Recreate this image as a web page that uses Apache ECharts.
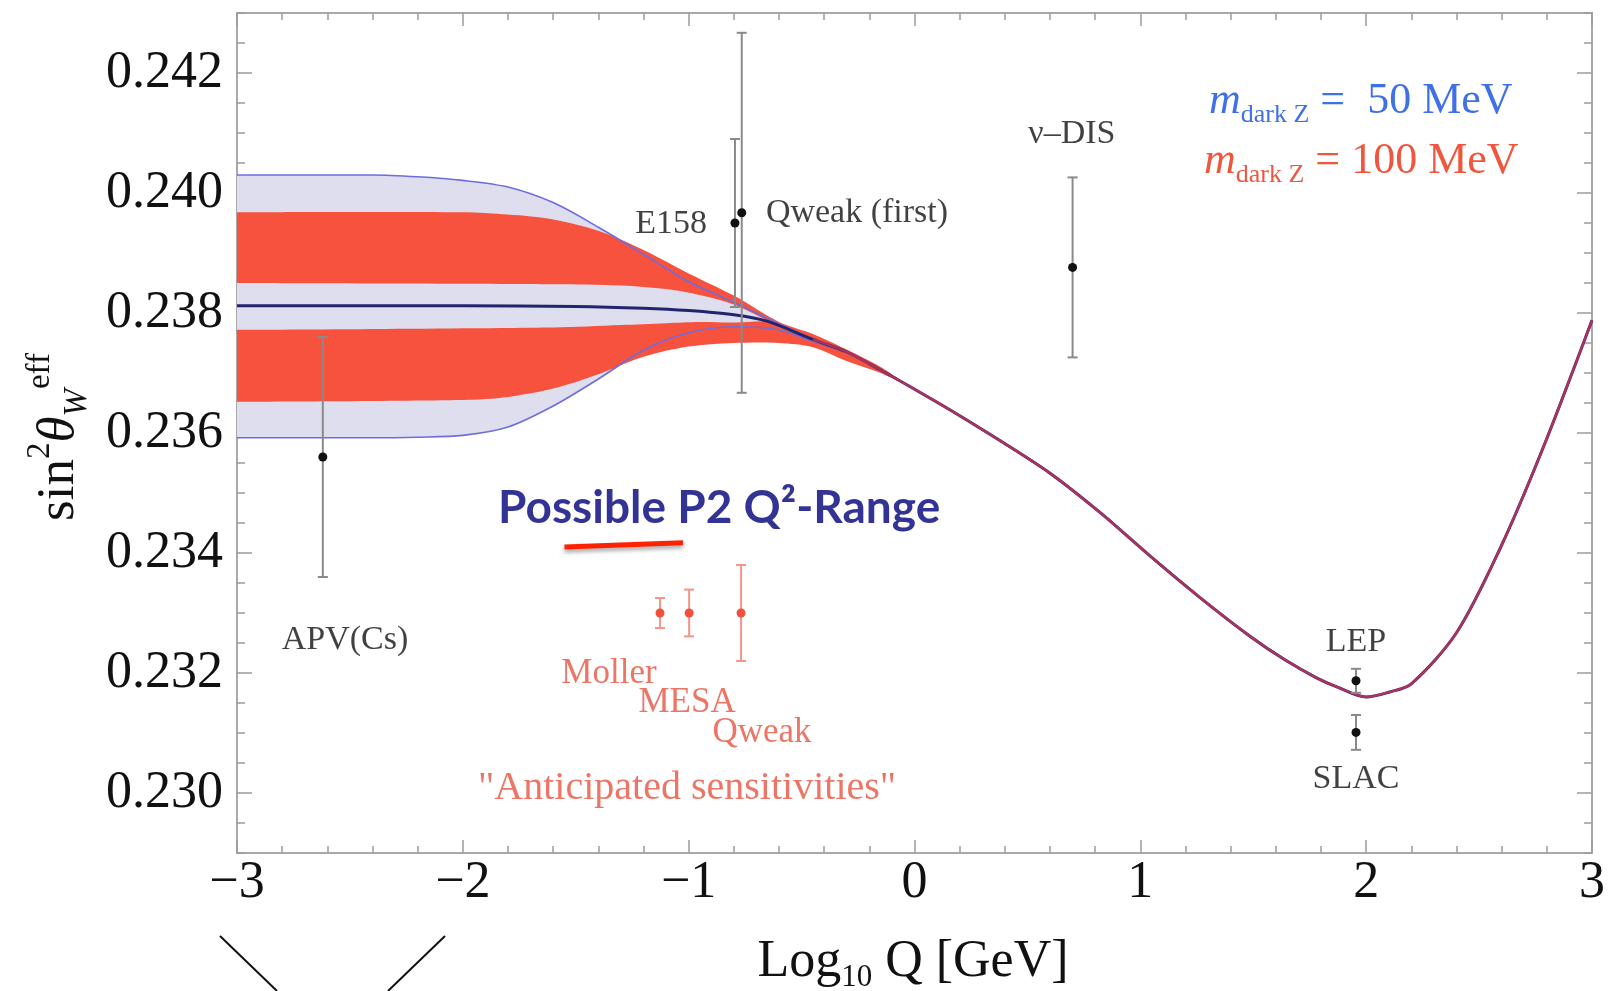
<!DOCTYPE html>
<html>
<head>
<meta charset="utf-8"/>
<title>sin2 theta_W effective - running</title>
<script src="https://cdn.jsdelivr.net/npm/echarts@6.0.0/dist/echarts.min.js"></script>
<style>
html, body { margin: 0; padding: 0; background: #fff; }
#chart { width: 1613px; height: 991px; }
</style>
</head>
<body>
<div id="chart"></div>
<script>
// ---- values (x = log10 Q [GeV], y = sin^2 theta_W eff) ----
var xTicks = [-3, -2, -1, 0, 1, 2, 3];
var yTicks = [0.230, 0.232, 0.234, 0.236, 0.238, 0.240, 0.242];

// SM running curve
var central = [
    [-3, 0.23812], [-2, 0.23812], [-1.5, 0.23811], [-1.2, 0.23808], [-1.0, 0.23804],
    [-0.8, 0.23797], [-0.65, 0.23786], [-0.45, 0.23756], [-0.3, 0.23735], [-0.15, 0.23705],
    [0, 0.23673], [0.16, 0.23638], [0.38, 0.23587], [0.6, 0.23533], [0.82, 0.23468],
    [1.04, 0.23396], [1.26, 0.23327], [1.49, 0.2326], [1.64, 0.23222], [1.78, 0.23192],
    [1.87, 0.23177], [2.0, 0.2316], [2.1, 0.23168], [2.2, 0.23182], [2.4, 0.23267],
    [2.59, 0.23405], [2.78, 0.23572], [3.0, 0.23788]
];

// m_dark Z = 50 MeV band edges
var blue50Upper = [
    [-3, 0.2403], [-2.4, 0.2403], [-2.2, 0.24027], [-2.0, 0.24021], [-1.8, 0.2401],
    [-1.6, 0.23984], [-1.4, 0.23943], [-1.2, 0.23898], [-1.0, 0.23852], [-0.8, 0.23818],
    [-0.6, 0.23782], [-0.45, 0.23757], [-0.3, 0.23735]
];
var blue50Lower = [
    [-3, 0.23592], [-2.4, 0.23592], [-2.2, 0.23593], [-2.0, 0.23596], [-1.8, 0.2361],
    [-1.6, 0.23645], [-1.4, 0.2369], [-1.2, 0.23738], [-1.0, 0.23767], [-0.8, 0.23777],
    [-0.6, 0.23772], [-0.45, 0.23753], [-0.3, 0.23735]
];

// m_dark Z = 100 MeV band, outer edges
var red100Upper = [
    [-3, 0.23968], [-2.0, 0.23968], [-1.8, 0.23964], [-1.6, 0.23956], [-1.4, 0.23937],
    [-1.2, 0.23905], [-1.0, 0.23866], [-0.8, 0.23829], [-0.6, 0.23785], [-0.45, 0.23765],
    [-0.3, 0.23739], [-0.15, 0.2371], [-0.02, 0.23677]
];
var red100Lower = [
    [-3, 0.23652], [-2.0, 0.23655], [-1.8, 0.2366], [-1.6, 0.23674], [-1.4, 0.23698],
    [-1.2, 0.23727], [-1.0, 0.23744], [-0.8, 0.2375], [-0.6, 0.2375], [-0.45, 0.23743],
    [-0.3, 0.2372], [-0.15, 0.237], [-0.02, 0.23677]
];
// inner (uncovered) part of the 100 MeV band
var red100InnerUpper = [
    [-3, 0.2385], [-1.6, 0.23848], [-1.3, 0.23846], [-1.1, 0.2384], [-0.95, 0.2383],
    [-0.8, 0.23814], [-0.65, 0.23787]
];
var red100InnerLower = [
    [-3, 0.23772], [-1.6, 0.23776], [-1.3, 0.2378], [-1.1, 0.23783], [-0.95, 0.23785],
    [-0.8, 0.23784], [-0.65, 0.23787]
];

// measurements: name, x, y, error
var measured = [
    ['APV(Cs)', -2.62, 0.2356, 0.002],
    ['E158', -0.795, 0.2395, 0.0014],
    ['Qweak (first)', -0.765, 0.23967, 0.003],
    ['nu-DIS', 0.70, 0.23876, 0.0015],
    ['LEP', 1.955, 0.23187, 0.0002],
    ['SLAC', 1.955, 0.23101, 0.00029]
];
// anticipated sensitivities
var anticipated = [
    ['Moller', -1.127, 0.233, 0.00025],
    ['MESA', -0.998, 0.233, 0.00039],
    ['Qweak', -0.768, 0.233, 0.0008]
];

// P2 Q^2 range marker
var p2Range = [[-1.55, 0.2341], [-1.025, 0.23417]];

// text notes: x, y, text, group
var notes = [
    [-2.522, 0.23255, 'APV(Cs)', 'exp'],
    [-1.078, 0.23948, 'E158', 'exp'],
    [-0.658, 0.23967, 'Qweak (first)', 'expLeft'],
    [0.697, 0.24098, 'ν–DIS', 'exp'],
    [1.955, 0.23252, 'LEP', 'exp'],
    [1.955, 0.23023, 'SLAC', 'exp'],
    [-1.353, 0.23198, 'Moller', 'future'],
    [-1.007, 0.2315, 'MESA', 'future'],
    [-0.675, 0.231, 'Qweak', 'future'],
    [-1.007, 0.23008, '"Anticipated sensitivities"', 'futureBig'],
    [-1.844, 0.23475, 'Possible P2 Q²-Range', 'p2']
];

var SERIF = '"Liberation Serif", "DejaVu Serif", serif';
var Y_MIN = 0.229, Y_MAX = 0.243;
var LAVENDER = '#dedeee';
var SMOOTH = 0.3;

var noteStyle = {
    exp:       { fontFamily: SERIF, fontSize: 34, color: '#111', align: 'center' },
    expLeft:   { fontFamily: SERIF, fontSize: 34, color: '#111', align: 'left' },
    future:    { fontFamily: SERIF, fontSize: 35, color: '#e9523e', align: 'center' },
    futureBig: { fontFamily: SERIF, fontSize: 40, color: '#e9523e', align: 'center' },
    p2:        { fontFamily: 'Lato', fontWeight: 'bold', fontSize: 46, color: '#00007a', align: 'left' }
};

// cubic bezier segments through screen points, same rule as the line series 'smooth'
function smoothSegments(pts) {
    var out = '';
    var cps = pts.map(function (p, i) {
        var prev = pts[i - 1], next = pts[i + 1];
        if (!prev || !next) return [p, p];
        var vx = next[0] - prev[0], vy = next[1] - prev[1];
        var d0 = Math.hypot(p[0] - prev[0], p[1] - prev[1]);
        var d1 = Math.hypot(next[0] - p[0], next[1] - p[1]);
        var r = d0 + d1 > 0 ? d1 / (d0 + d1) : 0.5;
        return [
            [p[0] - vx * SMOOTH * (1 - r), p[1] - vy * SMOOTH * (1 - r)],
            [p[0] + vx * SMOOTH * r, p[1] + vy * SMOOTH * r]
        ];
    });
    for (var i = 0; i < pts.length - 1; i++) {
        var a = cps[i][1], b = cps[i + 1][0], q = pts[i + 1];
        out += ' C' + a[0] + ' ' + a[1] + ' ' + b[0] + ' ' + b[1] + ' ' + q[0] + ' ' + q[1];
    }
    return out;
}

function bandSeries(upper, lower, fill, z) {
    return {
        type: 'custom', z: z, clip: true, silent: true,
        data: upper.concat(lower),
        renderItem: function (params, api) {
            if (params.dataIndex !== 0) return null;
            var up = upper.map(function (p) { return api.coord(p); });
            var lo = lower.map(function (p) { return api.coord(p); }).reverse();
            var d = 'M' + up[0][0] + ' ' + up[0][1] + smoothSegments(up) +
                ' L' + lo[0][0] + ' ' + lo[0][1] + smoothSegments(lo) + ' Z';
            return { type: 'path', shape: { pathData: d }, style: { fill: fill } };
        }
    };
}

function errorBarSeries(rows, pointColor, barColor, z) {
    return {
        type: 'custom', z: z, silent: true,
        data: rows.map(function (r) { return [r[1], r[2], r[2] - r[3], r[2] + r[3]]; }),
        renderItem: function (params, api) {
            var x = api.value(0);
            var c = api.coord([x, api.value(1)]);
            var lo = api.coord([x, api.value(2)]);
            var hi = api.coord([x, api.value(3)]);
            var cap = 5;
            var st = { stroke: barColor, lineWidth: 2 };
            return {
                type: 'group',
                children: [
                    { type: 'line', shape: { x1: lo[0], y1: lo[1], x2: hi[0], y2: hi[1] }, style: st },
                    { type: 'line', shape: { x1: lo[0] - cap, y1: lo[1], x2: lo[0] + cap, y2: lo[1] }, style: st },
                    { type: 'line', shape: { x1: hi[0] - cap, y1: hi[1], x2: hi[0] + cap, y2: hi[1] }, style: st },
                    { type: 'circle', shape: { cx: c[0], cy: c[1], r: 4.5 }, style: { fill: pointColor } }
                ]
            };
        }
    };
}

function lineSeries(data, lineStyle, z, smooth) {
    return {
        type: 'line', data: data, z: z, silent: true,
        symbol: 'none', smooth: smooth === undefined ? SMOOTH : smooth,
        lineStyle: lineStyle
    };
}

var frame = { show: true, onZero: false, lineStyle: { color: '#a9a9a9', width: 2 } };
var noLine = { show: false, onZero: false };
var tickStyle = { color: '#9c9c9c', width: 1.5 };

var chart = echarts.init(document.getElementById('chart'));

chart.setOption({
    animation: false,
    backgroundColor: '#fff',
    grid: { left: 237, right: 21, top: 13, bottom: 138 },
    xAxis: [
        {
            type: 'value', min: -3, max: 3, interval: 1, position: 'bottom',
            axisLine: frame,
            axisTick: { show: true, inside: true, length: 13, lineStyle: tickStyle },
            minorTick: { show: true, splitNumber: 5, length: 7, lineStyle: tickStyle },
            axisLabel: {
                show: true, margin: 4, customValues: xTicks,
                fontFamily: SERIF, fontSize: 52, color: '#111',
                formatter: function (v) { return String(v).replace('-', '−'); }
            },
            splitLine: { show: false }
        },
        {
            type: 'value', min: -3, max: 3, interval: 1, position: 'top',
            axisLine: frame,
            axisTick: { show: true, inside: true, length: 13, lineStyle: tickStyle },
            minorTick: { show: true, splitNumber: 5, length: 7, lineStyle: tickStyle },
            axisLabel: { show: false },
            splitLine: { show: false }
        }
    ],
    yAxis: [
        {
            type: 'value', min: Y_MIN, max: Y_MAX, position: 'left',
            axisLine: frame,
            axisTick: { show: true, inside: true, length: 15, customValues: yTicks, lineStyle: tickStyle },
            axisLabel: {
                show: true, margin: 14, customValues: yTicks,
                fontFamily: SERIF, fontSize: 52, color: '#111',
                formatter: function (v) { return v.toFixed(3); }
            },
            splitLine: { show: false }
        },
        {
            type: 'value', min: Y_MIN, max: Y_MAX, interval: 0.0005, position: 'left',
            axisLine: noLine,
            axisTick: { show: true, inside: true, length: 8, lineStyle: tickStyle },
            axisLabel: { show: false }, splitLine: { show: false }
        },
        {
            type: 'value', min: Y_MIN, max: Y_MAX, position: 'right',
            axisLine: frame,
            axisTick: { show: true, inside: true, length: 15, customValues: yTicks, lineStyle: tickStyle },
            axisLabel: { show: false }, splitLine: { show: false }
        },
        {
            type: 'value', min: Y_MIN, max: Y_MAX, interval: 0.0005, position: 'right',
            axisLine: noLine,
            axisTick: { show: true, inside: true, length: 8, lineStyle: tickStyle },
            axisLabel: { show: false }, splitLine: { show: false }
        }
    ],
    series: [
        bandSeries(blue50Upper, blue50Lower, LAVENDER, 1),
        bandSeries(red100Upper, red100Lower, '#f6523e', 2),
        bandSeries(red100InnerUpper, red100InnerLower, LAVENDER, 3),
        lineSeries(blue50Upper, { color: '#6d6de0', width: 1.6 }, 4),
        lineSeries(blue50Lower, { color: '#6d6de0', width: 1.6 }, 4),
        lineSeries(central, { color: '#24246e', width: 3 }, 5),
        lineSeries(central.filter(function (p) { return p[0] >= -0.45; }),
            { color: '#d8375a', width: 2.5, opacity: 0.75 }, 6),
        errorBarSeries(measured, '#111', '#8a8a8a', 7),
        errorBarSeries(anticipated, '#f0503e', '#f59588', 7),
        lineSeries(p2Range, {
            color: '#ff2200', width: 5,
            shadowColor: 'rgba(0,0,0,0.35)', shadowBlur: 4, shadowOffsetY: 3
        }, 8, false),
        {
            type: 'scatter', z: 9, silent: true, symbolSize: 1,
            itemStyle: { color: 'rgba(0,0,0,0)' },
            data: notes.map(function (n) {
                return {
                    value: [n[0], n[1]],
                    label: Object.assign({ show: true, position: 'inside', verticalAlign: 'middle', formatter: n[2] }, noteStyle[n[3]])
                };
            })
        }
    ],
    graphic: [
        {
            type: 'text', x: 1209, y: 101, z: 20,
            style: {
                text: '{m|m}{s|dark Z}{t| =  50 MeV}',
                align: 'left', textAlign: 'left', verticalAlign: 'middle', textVerticalAlign: 'middle',
                rich: {
                    m: { fontFamily: SERIF, fontStyle: 'italic', fontSize: 44, lineHeight: 54, fill: '#4070e8', color: '#4070e8' },
                    s: { fontFamily: SERIF, fontSize: 26, lineHeight: 26, verticalAlign: 'bottom', fill: '#4070e8', color: '#4070e8' },
                    t: { fontFamily: SERIF, fontSize: 44, lineHeight: 54, fill: '#4070e8', color: '#4070e8' }
                }
            }
        },
        {
            type: 'text', x: 1204, y: 161, z: 20,
            style: {
                text: '{m|m}{s|dark Z}{t| = 100 MeV}',
                align: 'left', textAlign: 'left', verticalAlign: 'middle', textVerticalAlign: 'middle',
                rich: {
                    m: { fontFamily: SERIF, fontStyle: 'italic', fontSize: 44, lineHeight: 54, fill: '#f0563e', color: '#f0563e' },
                    s: { fontFamily: SERIF, fontSize: 26, lineHeight: 26, verticalAlign: 'bottom', fill: '#f0563e', color: '#f0563e' },
                    t: { fontFamily: SERIF, fontSize: 44, lineHeight: 54, fill: '#f0563e', color: '#f0563e' }
                }
            }
        },
        {
            type: 'text', x: 913, y: 962, z: 20,
            style: {
                text: '{a|Log}{s|10}{a| Q [GeV]}',
                align: 'center', textAlign: 'center', verticalAlign: 'middle', textVerticalAlign: 'middle',
                rich: {
                    a: { fontFamily: SERIF, fontSize: 52, lineHeight: 62, fill: '#111', color: '#111' },
                    s: { fontFamily: SERIF, fontSize: 31, lineHeight: 31, verticalAlign: 'bottom', fill: '#111', color: '#111' }
                }
            }
        },
        {
            type: 'text', x: 59, y: 437, rotation: Math.PI / 2, z: 20,
            style: {
                text: '{a|sin}{p|2}{i|θ}{s|W}{p|eff}',
                align: 'center', textAlign: 'center', verticalAlign: 'middle', textVerticalAlign: 'middle',
                rich: {
                    a: { fontFamily: SERIF, fontSize: 53, lineHeight: 70, fill: '#111', color: '#111' },
                    i: { fontFamily: SERIF, fontStyle: 'italic', fontSize: 53, lineHeight: 70, fill: '#111', color: '#111' },
                    p: { fontFamily: SERIF, fontSize: 33, lineHeight: 33, verticalAlign: 'top', fill: '#111', color: '#111' },
                    s: { fontFamily: SERIF, fontStyle: 'italic', fontSize: 33, lineHeight: 33, verticalAlign: 'bottom', fill: '#111', color: '#111' }
                }
            }
        },
        { type: 'line', shape: { x1: 220, y1: 936, x2: 277, y2: 991 }, style: { stroke: '#111', lineWidth: 2 } },
        { type: 'line', shape: { x1: 445, y1: 936, x2: 388, y2: 991 }, style: { stroke: '#111', lineWidth: 2 } }
    ]
});
</script>
</body>
</html>
